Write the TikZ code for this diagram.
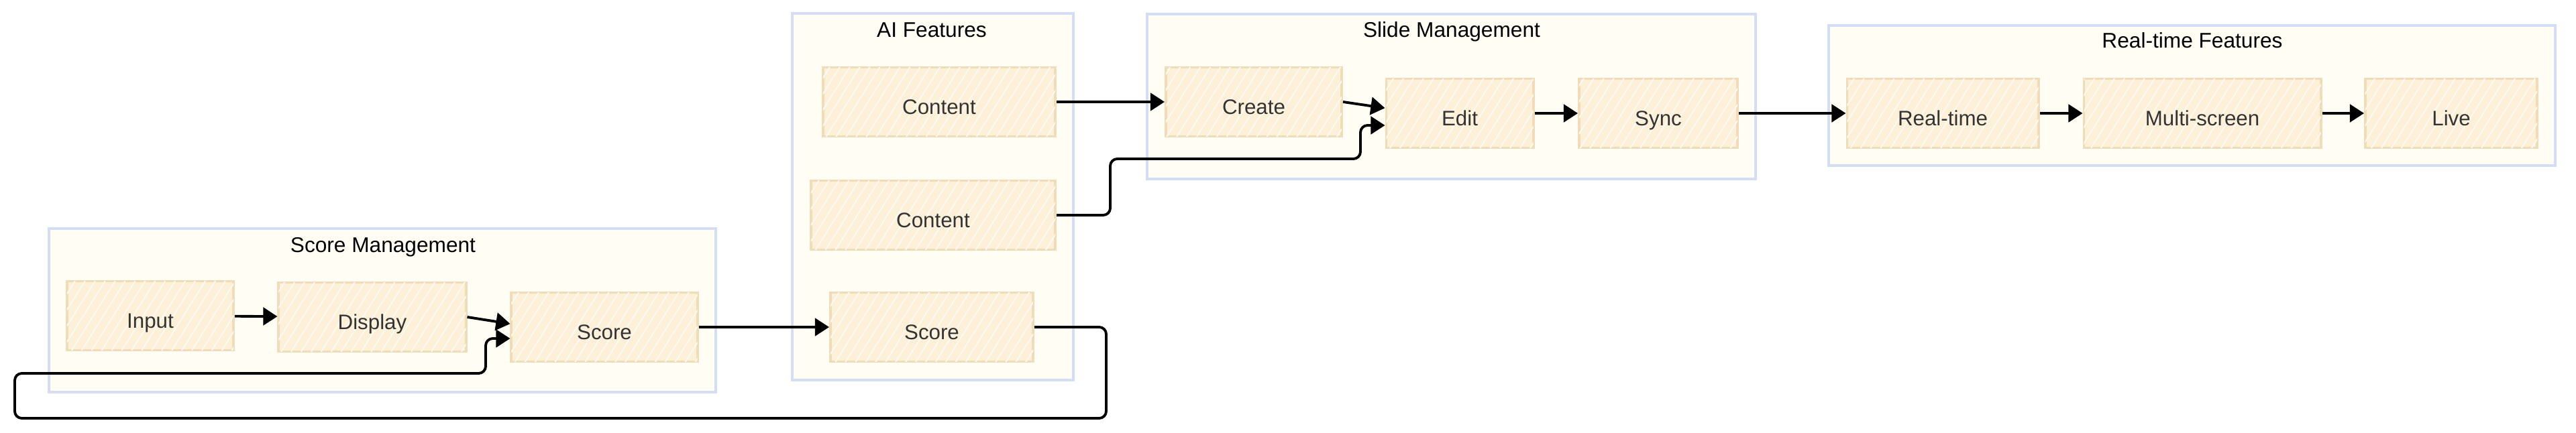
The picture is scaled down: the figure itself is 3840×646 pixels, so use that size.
\documentclass[tikz,border=0pt]{standalone}
\usepackage{fontspec}
\setmainfont{Liberation Sans}
\usetikzlibrary{arrows.meta,patterns.meta}
\definecolor{boxfill}{HTML}{FCF0D9}
\definecolor{boxline}{HTML}{EFDDB9}
\definecolor{clfill}{HTML}{FFFDF4}
\definecolor{clline}{HTML}{D3DEF4}
\definecolor{txt}{HTML}{333333}
\begin{document}
\begin{tikzpicture}[x=0.01cm,y=-0.01cm,>={Triangle[length=6pt,width=7.5pt]},
	cluster/.style={draw=clline,fill=clfill,line width=1.1pt},
	title/.style={text=black,font=\fontsize{9}{11}\selectfont,text height=0.23cm,text depth=0pt},
	box/.style={draw=boxline,fill=boxfill,line width=1.1pt,text=txt,font=\fontsize{8.9}{10}\selectfont,
		minimum height=1.03cm,inner sep=0pt,text height=0.37cm,text depth=0pt,
		postaction={pattern={Lines[angle=58,distance=3.6pt,line width=0.5pt]},pattern color=white!70!boxfill}},
	link/.style={->,line width=1.1pt,rounded corners=3pt}]
	\useasboundingbox (0,0) rectangle (3840,646);
	% groups
	\draw[cluster] (73,341) rectangle (1067,585);
	\node[title] (tscore) at (571,365) {Score Management};
	\draw[cluster] (1181,20) rectangle (1600,567);
	\node[title] (tai) at (1389,44) {AI Features};
	\draw[cluster] (1710,21) rectangle (2617,267);
	\node[title] (tslide) at (2164,44) {Slide Management};
	\draw[cluster] (2726,38) rectangle (3809,247);
	\node[title] (treal) at (3268,60) {Real-time Features};
	% score management
	\node[box,minimum width=2.48cm] (input) at (224,471) {Input};
	\node[box,minimum width=2.79cm] (display) at (555,473) {Display};
	\node[box,minimum width=2.77cm] (score) at (901,488) {Score};
	% ai features
	\node[box,minimum width=3.46cm] (contenta) at (1400,152) {Content};
	\node[box,minimum width=3.64cm] (contentb) at (1391,321) {Content};
	\node[box,minimum width=3.02cm] (aiscore) at (1389,488) {Score};
	% slide management
	\node[box,minimum width=2.62cm] (create) at (1869,152) {Create};
	\node[box,minimum width=2.19cm] (edit) at (2176,169) {Edit};
	\node[box,minimum width=2.36cm] (sync) at (2472,169) {Sync};
	% real-time features
	\node[box,minimum width=2.85cm] (realtime) at (2896,169) {Real-time};
	\node[box,minimum width=3.53cm] (multi) at (3283,169) {Multi-screen};
	\node[box,minimum width=2.56cm] (live) at (3654,169) {Live};
	% links
	\draw[link] (input) -- (display);
	\draw[link] (display.east) -- (score.178);
	\draw[link] (score) -- (aiscore);
	\draw[link] (aiscore.east) -| (1649,624) -| (22,557) -| (724,505) -- (score.west |- 0,505);
	\draw[link] (contenta) -- (create);
	\draw[link] (create.east) -- (edit.176);
	\draw[link] (contentb.east) -| (1655,237) -| (2028,187) -- (edit.west |- 0,187);
	\draw[link] (edit) -- (sync);
	\draw[link] (sync) -- (realtime);
	\draw[link] (realtime) -- (multi);
	\draw[link] (multi) -- (live);
\end{tikzpicture}
\end{document}
